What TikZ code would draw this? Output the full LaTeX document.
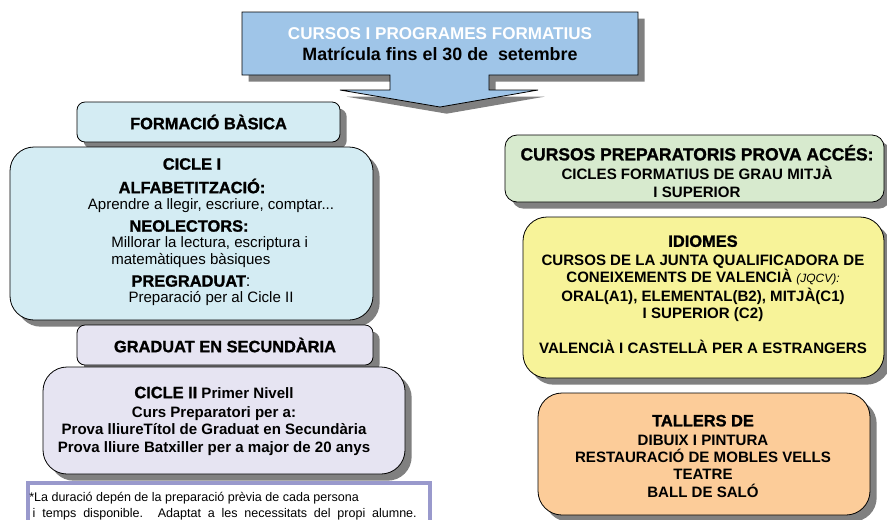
\documentclass[tikz,border=0pt]{standalone}
\usepackage{fontspec}
\setmainfont{Liberation Sans}
\newfontfamily\heavyfont{Liberation Sans}[BoldFeatures={FakeBold=1.3}]
\usetikzlibrary{shadows}

\definecolor{arrowblue}{RGB}{159,197,232}
\definecolor{basicacyan}{RGB}{212,236,243}
\definecolor{gradlila}{RGB}{230,228,242}
\definecolor{accesgreen}{RGB}{215,234,206}
\definecolor{idiomyellow}{RGB}{247,243,153}
\definecolor{tallerpeach}{RGB}{252,204,153}
\definecolor{notelila}{RGB}{153,153,204}
\definecolor{shadowgray}{RGB}{128,128,128}

\newcommand{\heavytxt}[1]{{\heavyfont\bfseries\fontsize{12.3}{13}\selectfont #1}}

\tikzset{
  shade box/.style={draw=black, line width=0.6pt,
    drop shadow={shadow xshift=5pt, shadow yshift=-5pt, fill=shadowgray, opacity=1}},
  titlebox/.style={shade box, rounded corners=6pt},
  roundbox/.style={shade box, rounded corners=18pt},
  notebox/.style={draw=notelila, line width=3pt, fill=white},
  heavy/.style={inner sep=0pt, font=\heavyfont\bfseries\fontsize{12.3}{13}\selectfont},
  boldtxt/.style={inner sep=0pt, font=\bfseries\fontsize{11.3}{13}\selectfont, align=center},
  plain/.style={inner sep=0pt, font=\fontsize{11.3}{13}\selectfont}
}

\begin{document}
\begin{tikzpicture}[x=0.75pt,y=-0.75pt]
\useasboundingbox (0,0) rectangle (887,519);

% fletxa de dalt
\filldraw[shade box, fill=arrowblue] (242,12) -- (638,12) -- (638,75) -- (489,75) -- (489,90)
  -- (538,90) -- (440,107) -- (340,90) -- (390,90) -- (390,75) -- (242,75) -- cycle;
\node[inner sep=0pt, align=center, font=\bfseries\fontsize{12.8}{15.75}\selectfont] (titol) at (440,44)
  {\textcolor{white}{CURSOS I PROGRAMES FORMATIUS}\\{\fontsize{13.4}{15.75}\selectfont Matrícula fins el 30 de\ \ setembre}};

% columna esquerra
\node[titlebox, fill=basicacyan, minimum width=197.25pt, minimum height=30pt] (basica) at (208.5,122) {};
\node[heavy] (basicatxt) at (basica.center) {FORMACIÓ BÀSICA};

\node[roundbox, fill=basicacyan, minimum width=272.25pt, minimum height=129.75pt] (cicleI) at (191.5,233.5) {};
\node[heavy] (cicleIhead) at (192,164) {CICLE I};
\node[heavy] (alfa) at (192,186) {ALFABETITZACIÓ:};
\node[plain] (alfatxt) at (211,206) {Aprendre a llegir, escriure, comptar...};
\node[heavy] (neo) at (189,226) {NEOLECTORS:};
\node[plain, anchor=west] (neotxt) at (111,244) {Millorar la lectura, escriptura i};
\node[plain, anchor=west] (neotxtb) at (111,261) {matemàtiques bàsiques};
\node[heavy] (pregrau) at (191,281) {PREGRADUAT{\mdseries:}};
\node[plain] (pregrautxt) at (211,299) {Preparació per al Cicle II};

\node[titlebox, fill=gradlila, minimum width=222pt, minimum height=30pt] (graduat) at (225,345) {};
\node[heavy] (graduattxt) at (graduat.center) {GRADUAT EN SECUNDÀRIA};

\node[roundbox, fill=gradlila, minimum width=271.5pt, minimum height=80.25pt] (cicleII) at (224,420.5) {};
\node[boldtxt] (cicleIItxt) at (214,421) {\heavytxt{CICLE II} Primer Nivell\\[1.5pt]
  Curs Preparatori per a:\\
  Prova lliureTítol de Graduat en Secundària\\
  Prova lliure Batxiller per a major de 20 anys};

\node[notebox, minimum width=301.5pt, minimum height=42.75pt] (nota) at (229,511.5) {};
\node[inner sep=0pt, anchor=west, align=left, font=\fontsize{9.4}{12}\selectfont] (notatxt) at (29,506)
  {*La duració depén de la preparació prèvia de cada persona\\
  \ \makebox[288pt][s]{i temps disponible. Adaptat a les necessitats del propi alumne.}};

% columna dreta
\node[shade box, rounded corners=9pt, fill=accesgreen, minimum width=284.25pt, minimum height=50.25pt] (acces) at (694.5,168.5) {};
\node[boldtxt] (accestxt) at (697,171) {{\heavyfont\bfseries\fontsize{13.1}{13}\selectfont CURSOS PREPARATORIS PROVA ACCÉS:}\\[1.5pt]
  CICLES FORMATIUS DE GRAU MITJÀ\\ I SUPERIOR};

\node[roundbox, fill=idiomyellow, minimum width=270.75pt, minimum height=120.75pt] (idiomes) at (703.5,297.5) {};
\node[boldtxt] (idiomestxt) at (703,294.5) {\heavytxt{IDIOMES}\\[1pt]
  CURSOS DE LA JUNTA QUALIFICADORA DE\\
  CONEIXEMENTS DE VALENCIÀ {\mdseries\itshape\fontsize{9}{10}\selectfont (JQCV):}\\[1pt]
  ORAL(A1), ELEMENTAL(B2), MITJÀ(C1)\\
  I SUPERIOR (C2)\\[13pt]
  VALENCIÀ I CASTELLÀ PER A ESTRANGERS};

\node[roundbox, fill=tallerpeach, minimum width=249pt, minimum height=91.5pt] (tallers) at (704,454) {};
\node[boldtxt] (tallerstxt) at (703,456) {\heavytxt{TALLERS DE}\\[1pt]
  DIBUIX I PINTURA\\
  RESTAURACIÓ DE MOBLES VELLS\\
  TEATRE\\
  BALL DE SALÓ};
\end{tikzpicture}
\end{document}
